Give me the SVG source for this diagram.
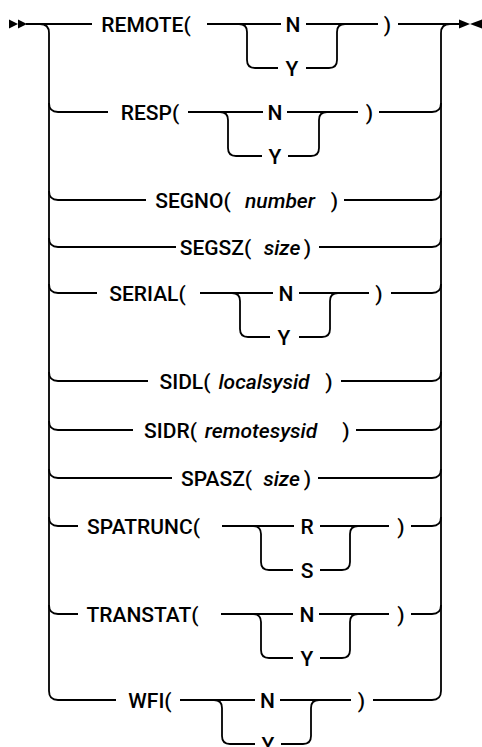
<svg xmlns="http://www.w3.org/2000/svg" width="482" height="747" viewBox="0 0 482 747">
<style>
.t{font-family:Roboto,"Liberation Sans",sans-serif;font-size:21px;font-weight:500;fill:#000;text-anchor:middle}
.i{font-style:italic}
.c{fill:none;stroke:#000;stroke-width:1.8}
.a{fill:#000}
</style>
<rect width="482" height="747" fill="#fff"/>
<g id="connectors">
<polygon class="a" points="9,19.5 9,28.5 18,24"/>
<polygon class="a" points="18,19.5 18,28.5 27,24"/>
<polygon class="a" points="459,19.5 459,28.5 470,24"/>
<polygon class="a" points="482,19.5 482,28.5 470,24"/>
<path class="c" d="M26 24H92"/>
<path class="c" d="M40 24Q49 24 49 33V691Q49 700 58 700H116"/>
<path class="c" d="M450 24Q441 24 441 33V691Q441 700 432 700H373"/>
<!-- row1 REMOTE -->
<path class="c" d="M207 24H281M306 24H378M398 24H460"/>
<path class="c" d="M239 24Q247 24 247 32V60Q247 68 255 68H278M306 68H329Q337 68 337 60V32Q337 24 345 24"/>
<!-- row2 RESP -->
<path class="c" d="M49 103Q49 112 58 112H108M188 112H263M287 112H358M379 112H432Q441 112 441 103"/>
<path class="c" d="M220 112Q228 112 228 120V148Q228 156 236 156H262M288 156H311Q319 156 319 148V120Q319 112 327 112"/>
<!-- row3 SEGNO -->
<path class="c" d="M49 191Q49 200 58 200H146M344 200H432Q441 200 441 191"/>
<!-- row4 SEGSZ -->
<path class="c" d="M49 238Q49 247 58 247H176M319 247H432Q441 247 441 238"/>
<!-- row5 SERIAL -->
<path class="c" d="M49 284Q49 293 58 293H97M200 293H273M299 293H369M391 293H432Q441 293 441 284"/>
<path class="c" d="M232 293Q240 293 240 301V329Q240 337 248 337H270M299 337H322Q330 337 330 329V301Q330 293 338 293"/>
<!-- row6 SIDL -->
<path class="c" d="M49 372Q49 381 58 381H148M341 381H432Q441 381 441 372"/>
<!-- row7 SIDR -->
<path class="c" d="M49 421Q49 430 58 430H133M356 430H432Q441 430 441 421"/>
<!-- row8 SPASZ -->
<path class="c" d="M49 469Q49 478 58 478H172M318 478H432Q441 478 441 469"/>
<!-- row9 SPATRUNC -->
<path class="c" d="M49 517Q49 526 58 526H78M222 526H294M320 526H389M411 526H432Q441 526 441 517"/>
<path class="c" d="M253 526Q261 526 261 534V562Q261 570 269 570H293M320 570H342Q350 570 350 562V534Q350 526 358 526"/>
<!-- row10 TRANSTAT -->
<path class="c" d="M49 605Q49 614 58 614H78M221 614H293M319 614H389M411 614H432Q441 614 441 605"/>
<path class="c" d="M253 614Q261 614 261 622V650Q261 658 269 658H293M320 658H342Q350 658 350 650V622Q350 614 358 614"/>
<!-- row11 WFI -->
<path class="c" d="M180 700H255M280 700H351"/>
<path class="c" d="M214 700Q222 700 222 708V736Q222 744 230 744H255M281 744H303Q311 744 311 736V708Q311 700 319 700"/>
</g>
<g id="remote"><text class="t" x="146" y="31.5">REMOTE(</text><text class="t" x="293" y="31.5">N</text><text class="t" x="292" y="75.5">Y</text><text class="t" x="387.5" y="31.5">)</text></g>
<g id="resp"><text class="t" x="150" y="119.5">RESP(</text><text class="t" x="275" y="119.5">N</text><text class="t" x="275" y="163.5">Y</text><text class="t" x="369.5" y="119.5">)</text></g>
<g id="segno"><text class="t" x="193" y="207.5">SEGNO(</text><text class="t i" x="280" y="207.5">number</text><text class="t" x="334.5" y="207.5">)</text></g>
<g id="segsz"><text class="t" x="215.5" y="254.5">SEGSZ(</text><text class="t i" x="282" y="254.5">size</text><text class="t" x="307.5" y="254.5">)</text></g>
<g id="serial"><text class="t" x="147.5" y="300.5">SERIAL(</text><text class="t" x="286" y="300.5">N</text><text class="t" x="284" y="344.5">Y</text><text class="t" x="379" y="300.5">)</text></g>
<g id="sidl"><text class="t" x="185" y="388.5">SIDL(</text><text class="t i" x="264" y="388.5">localsysid</text><text class="t" x="329" y="388.5">)</text></g>
<g id="sidr"><text class="t" x="170.5" y="437.5">SIDR(</text><text class="t i" x="261" y="437.5">remotesysid</text><text class="t" x="346" y="437.5">)</text></g>
<g id="spasz"><text class="t" x="216.5" y="485.5">SPASZ(</text><text class="t i" x="281.5" y="485.5">size</text><text class="t" x="307.5" y="485.5">)</text></g>
<g id="spatrunc"><text class="t" x="143.5" y="533.5">SPATRUNC(</text><text class="t" x="307" y="533.5">R</text><text class="t" x="307" y="577.5">S</text><text class="t" x="401" y="533.5">)</text></g>
<g id="transtat"><text class="t" x="142.5" y="621.5">TRANSTAT(</text><text class="t" x="307" y="621.5">N</text><text class="t" x="307" y="665.5">Y</text><text class="t" x="401" y="621.5">)</text></g>
<g id="wfi"><text class="t" x="150" y="707.5">WFI(</text><text class="t" x="267.5" y="707.5">N</text><text class="t" x="268" y="751.5">Y</text><text class="t" x="361.5" y="707.5">)</text></g>
</svg>
